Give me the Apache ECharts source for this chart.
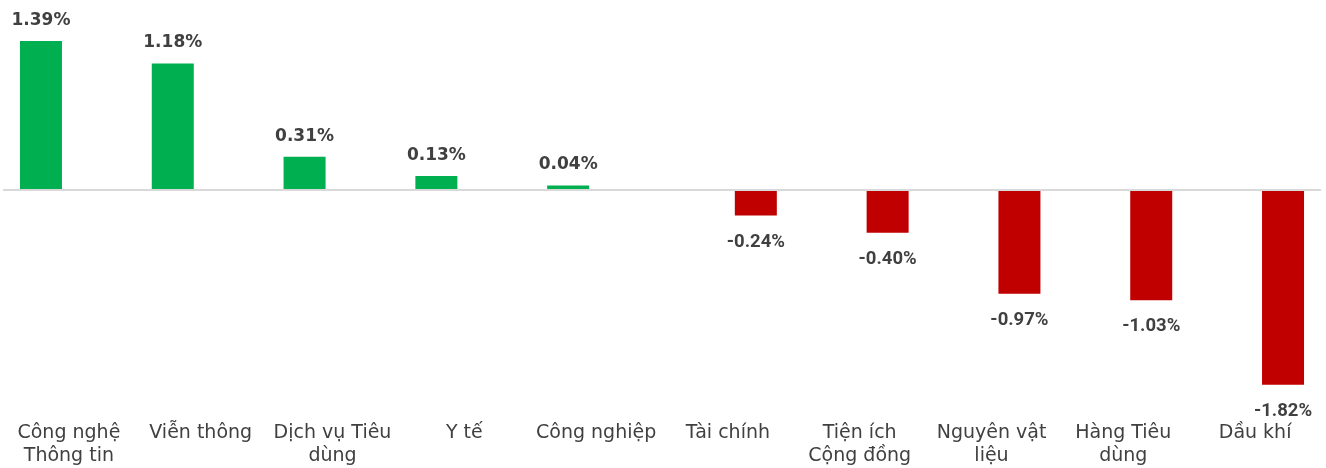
<!DOCTYPE html>
<html>
<head>
<meta charset="utf-8">
<script src="https://cdn.jsdelivr.net/npm/echarts@6/dist/echarts.min.js"></script>
<style>
  html, body { margin: 0; padding: 0; background: #fff; }
  #chart { width: 1326px; height: 468px; }
</style>
</head>
<body>
<div id="chart"></div>
<script>
// nhóm ngành
var categories = [
    'Công nghệ\nThông tin', 'Viễn thông', 'Dịch vụ Tiêu\ndùng', 'Y tế', 'Công nghiệp',
    'Tài chính', 'Tiện ích\nCộng đồng', 'Nguyên vật\nliệu', 'Hàng Tiêu\ndùng', 'Dầu khí'
];
// tăng / giảm (%)
var upValues = [1.39, 1.18, 0.31, 0.13, 0.04, '-', '-', '-', '-', '-'];
var downValues = ['-', '-', '-', '-', '-', -0.24, -0.40, -0.97, -1.03, -1.82];

var myChart = echarts.init(document.getElementById('chart'));

var option = {
    animation: false,
    grid: { left: 3, right: 5, top: 18.5, bottom: 64 },
    xAxis: {
        type: 'category',
        data: categories,
        axisLine: { show: false },
        axisTick: { show: false },
        axisLabel: {
            interval: 0,
            margin: 18,
            color: '#404040',
            fontSize: 19,
            lineHeight: 23,
            fontFamily: 'DejaVu Sans'
        }
    },
    yAxis: {
        type: 'value',
        min: -2.0,
        max: 1.6,
        show: false,
        splitLine: { show: false }
    },
    series: [{
        name: 'up',
        type: 'bar',
        barWidth: 42,
        barGap: '33%',
        data: upValues,
        itemStyle: { color: '#00b050' },
        label: {
            show: true,
            position: 'top',
            distance: 12,
            color: '#404040',
            fontSize: 17,
            fontWeight: 'bold',
            fontFamily: 'DejaVu Sans',
            formatter: function (p) { return p.value.toFixed(2) + '%'; }
        },
        markLine: {
            silent: true,
            symbol: ['none', 'none'],
            label: { show: false },
            lineStyle: { color: '#d9d9d9', width: 2, type: 'solid' },
            data: [{ yAxis: 0 }]
        }
    }, {
        name: 'down',
        type: 'bar',
        barWidth: 42,
        data: downValues,
        itemStyle: { color: '#c00000' },
        label: {
            show: true,
            position: 'bottom',
            distance: 17,
            color: '#404040',
            fontSize: 18.5,
            fontWeight: 'bold',
            fontFamily: 'Roboto',
            formatter: function (p) { return p.value.toFixed(2) + '%'; }
        }
    }]
};

myChart.setOption(option);
window.addEventListener('resize', function () {
    myChart.resize();
});
</script>
</body>
</html>
